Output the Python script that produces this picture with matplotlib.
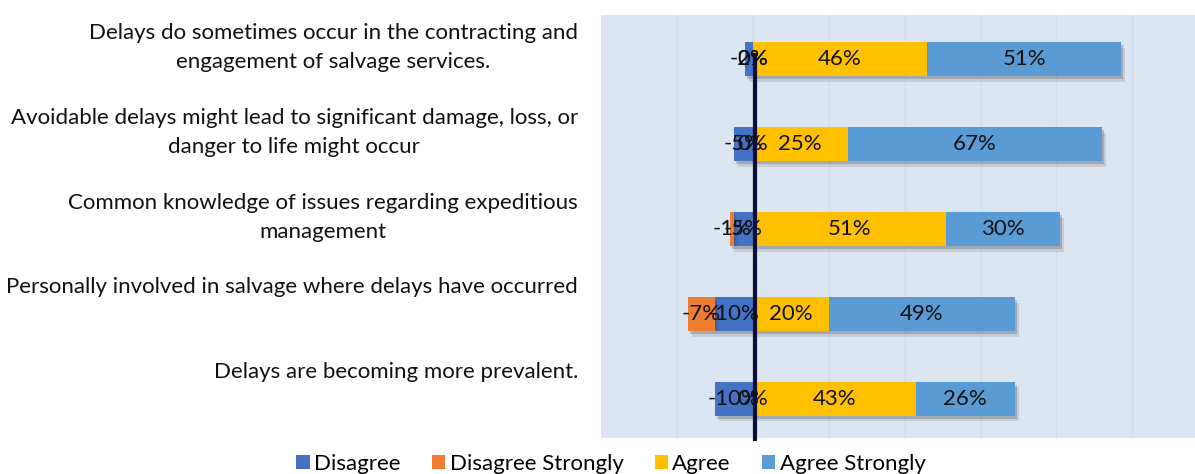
import matplotlib
matplotlib.use("Agg")
import matplotlib.pyplot as plt
import matplotlib.patheffects as pe
from matplotlib.transforms import blended_transform_factory
from matplotlib.patches import Patch

categories = [
    "Delays do sometimes occur in the contracting and\nengagement of salvage services.",
    "Avoidable delays might lead to significant damage, loss, or\ndanger to life might occur",
    "Common knowledge of issues regarding expeditious\nmanagement",
    "Personally involved in salvage where delays have occurred",
    "Delays are becoming more prevalent.",
]
disagree = [-2, -5, -5, -10, -10]
disagree_strongly = [0, 0, -1, -7, 0]
agree = [46, 25, 51, 20, 43]
agree_strongly = [51, 67, 30, 49, 26]
series_names = ["Disagree", "Disagree Strongly", "Agree", "Agree Strongly"]
colors = ["#4472C4", "#ED7D31", "#FFC000", "#5B9BD5"]

plt.rcParams['font.family'] = ['Lato', 'DejaVu Sans']

fig = plt.figure(figsize=(11.95, 4.74), dpi=100)
ax = fig.add_axes([601/1195, 1-438/474, 594/1195, 423/474])
ax.set_facecolor("#DCE6F2")
for s in ax.spines.values():
    s.set_visible(False)

y = list(range(len(categories)))
h = 0.4
shadow = [pe.SimplePatchShadow(offset=(1.5, -2), shadow_rgbFace='#404040', alpha=0.25),
          pe.SimplePatchShadow(offset=(3, -4), shadow_rgbFace='#404040', alpha=0.15),
          pe.Normal()]

segs = []
b = ax.barh(y, disagree, left=0, height=h, color=colors[0], zorder=3)
segs.append((b, disagree, [0]*len(y)))
left2 = [d if v < 0 else 0 for d, v in zip(disagree, disagree_strongly)]
b = ax.barh(y, disagree_strongly, left=left2, height=h, color=colors[1], zorder=3)
segs.append((b, disagree_strongly, left2))
b = ax.barh(y, agree, left=0, height=h, color=colors[2], zorder=3)
segs.append((b, agree, [0]*len(y)))
b = ax.barh(y, agree_strongly, left=agree, height=h, color=colors[3], zorder=3)
segs.append((b, agree_strongly, agree[:]))

for bars, vals, lefts in segs:
    for r in bars:
        r.set_path_effects(shadow)
    for yi, v, l in zip(y, vals, lefts):
        ax.text(l + v/2, yi, f"{v}%", ha='center', va='center', fontsize=16,
                color='#111111', zorder=5)

ax.set_xlim(-40, 116.5)
ax.set_ylim(4.46, -0.52)
ax.set_xticks(range(-20, 120, 20))
ax.xaxis.grid(True, color='#D3DDEA', linewidth=1, zorder=0)
ax.set_xticklabels([])
ax.set_yticks([])
ax.tick_params(length=0)

# zero marker line
ax.plot([0.6, 0.6], [-0.07, 4.5], color='#0D0D3A', linewidth=3, zorder=6, clip_on=False,
        solid_capstyle='butt')

trans = blended_transform_factory(fig.transFigure, ax.transData)
for yi, c in zip(y, categories):
    ax.text(578/1195, yi - 0.43, c, transform=trans, ha='right', va='top',
            fontsize=16, linespacing=1.6, color='#111111', multialignment='center')

handles = [Patch(facecolor=c, edgecolor='none') for c in colors]
fig.legend(handles, series_names, loc='center', bbox_to_anchor=(611/1195, 0.022),
           ncol=4, frameon=False, fontsize=16, handlelength=0.6, handleheight=0.6,
           handletextpad=0.2, columnspacing=1.4, borderaxespad=0)

fig.savefig("out.png", dpi=100)
